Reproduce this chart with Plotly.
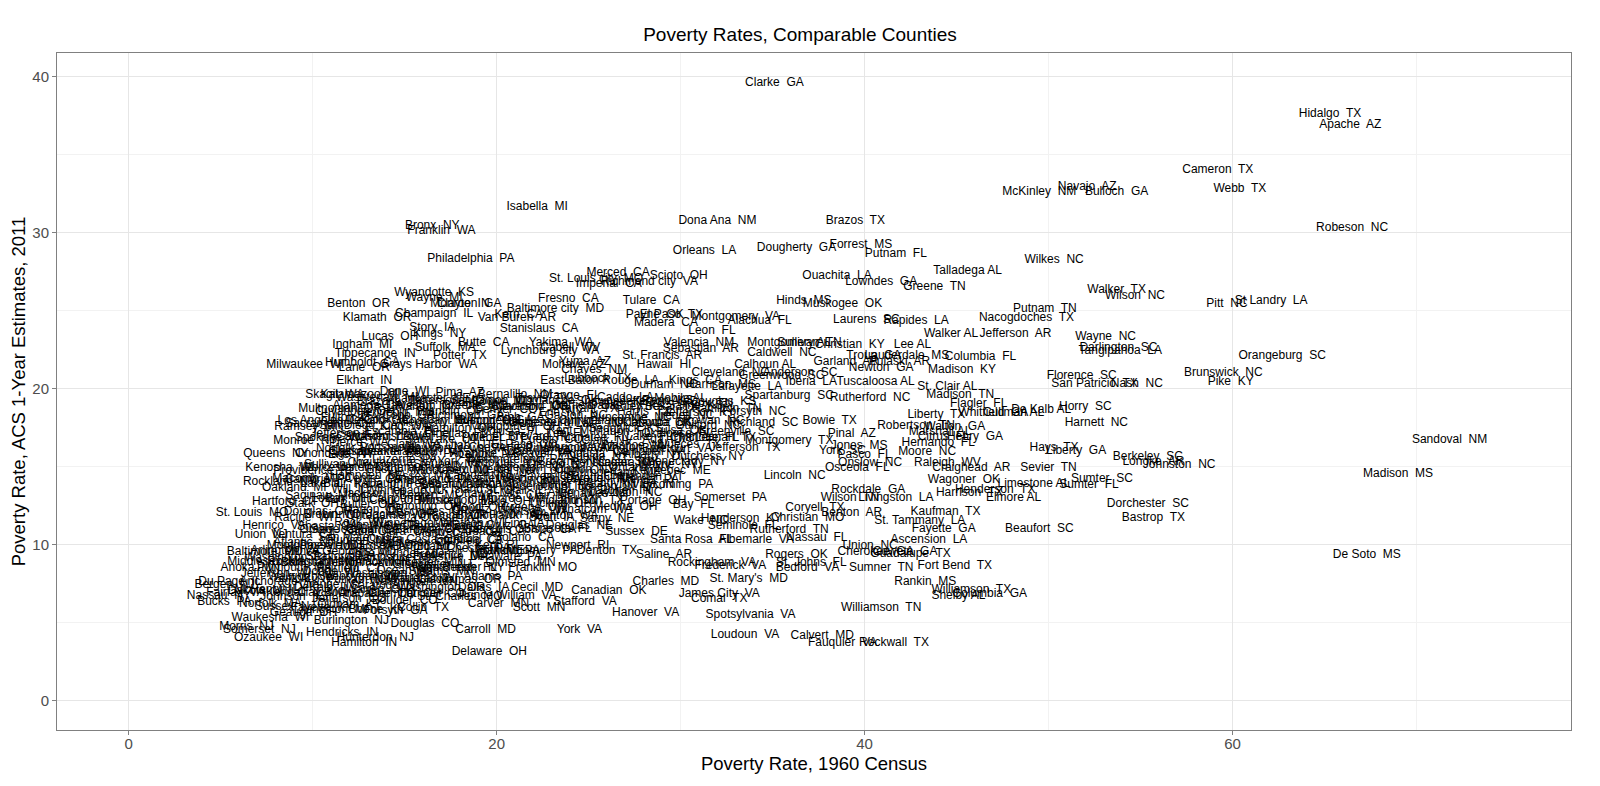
import plotly.graph_objects as go

# ---------------- readable / outlying counties ----------------
outer_names = [
    "Clarke  GA", "Hidalgo  TX", "Apache  AZ", "Cameron  TX", "Webb  TX",
    "Robeson  NC", "Navajo  AZ", "Bulloch  GA", "McKinley  NM", "Isabella  MI",
    "Bronx  NY", "Franklin  WA", "Philadelphia  PA", "Dona Ana  NM", "Brazos  TX",
    "Orleans  LA", "Dougherty  GA", "Forrest  MS", "Putnam  FL", "Wilkes  NC",
    "Talladega AL", "Ouachita  LA", "Lowndes  GA", "Greene  TN", "Walker  TX",
    "Wilson  NC", "St Landry  LA", "Pitt  NC", "Putnam  TN", "Nacogdoches  TX",
    "Rapides  LA", "Laurens  SC", "Hinds  MS", "Muskogee  OK", "Walker AL",
    "Jefferson  AR", "Wayne  NC", "Darlington  SC", "Tangipahoa  LA", "Orangeburg  SC",
    "Brunswick  NC", "Pike  KY", "Florence  SC", "San Patricio  TX", "Nash  NC",
    "Lee AL", "Columbia  FL", "Madison  KY", "St. Clair AL", "Madison  TN",
    "Flagler  FL", "Whitfield  GA", "Cullman AL", "De Kalb AL", "Horry  SC",
    "Harnett  NC", "Liberty  TX", "Robertson  TN", "Hernando  FL", "Moore  NC",
    "Hays  TX", "Liberty  GA", "Berkeley  SC", "Lonoke  AR", "Johnston  NC",
    "Sevier  TN", "Limestone AL", "Sumter  SC", "Sumter  FL", "Henderson  TX",
    "Harrison  TX", "Elmore AL", "Dorchester  SC", "Bastrop  TX", "Beaufort  SC",
    "Kaufman  TX", "St. Tammany  LA", "Fayette  GA", "Ascension  LA", "Union  NC",
    "Coweta  GA", "Guadalupe  TX", "Cherokee  GA", "Rockdale  GA", "Livingston  LA",
    "Wilson  TN", "Coryell  TX", "Benton  AR", "Christian  MO", "Henderson  KY",
    "Wake  NC", "Seminole  FL", "Rutherford  TN", "Nassau  FL", "Albemarle  VA",
    "Santa Rosa  FL", "Sussex  DE", "Bay  FL", "Somerset  PA", "Saline  AR",
    "Denton  TX", "Newport  RI", "Rockingham  VA", "Frederick  VA", "St. Johns  FL",
    "Bedford  VA", "Rogers  OK", "Sumner  TN", "Fort Bend  TX", "Rankin  MS",
    "Williamson  TX", "Shelby AL", "Columbia  GA", "Williamson  TN", "Charles  MD",
    "St. Mary's  MD", "James City  VA", "Comal  TX", "Canadian  OK", "Hanover  VA",
    "Spotsylvania  VA", "Loudoun  VA", "Calvert  MD", "Fauquier  VA", "Rockwall  TX",
    "York  VA", "Carroll  MD", "Delaware  OH", "Douglas  CO", "Hunterdon  NJ",
    "Hamilton  IN", "Hendricks  IN", "Ozaukee  WI", "Somerset  NJ", "Morris  NJ",
    "Waukesha  WI", "Burlington  NJ", "Warren  NJ", "Adams  PA", "Dallas  IA",
    "Cecil  MD", "Franklin  MO", "Prince William  VA", "Carver  MN", "Scott  MN",
    "Stafford  VA", "St. Louis  MO", "Queens  NY", "Onondaga  NY", "Kenosha  WI",
    "Rockland  NY", "Macomb  MI", "Monroe  NY", "Ramsey  MN", "Sacramento  CA",
    "Cuyahoga  OH", "Skagit  WA", "Kalamazoo  MI", "Elkhart  IN", "Lane  OR",
    "Milwaukee  WI", "Humboldt  CA", "Tippecanoe  IN", "Ingham  MI", "Lucas  OH",
    "Kings  NY", "Story  IA", "Butte  CA", "Suffolk  MA", "Potter  TX",
    "Grays Harbor  WA", "Benton  OR", "Klamath  OR", "Wyandotte  KS", "Wayne  MI",
    "Champaign  IL", "Clayton  GA", "Monroe  IN", "Van Buren  AR", "Kern  CA",
    "Baltimore city  MD", "Stanislaus  CA", "Fresno  CA", "Yakima  WA", "Lynchburg city  VA",
    "Cabell  WV", "Yuma  AZ", "Mohave  AZ", "Chaves  NM", "Lubbock  TX",
    "St. Louis city  MO", "Merced  CA", "Imperial  CA", "Richmond city  VA", "Scioto  OH",
    "Tulare  CA", "Payne  OK", "El Paso  TX", "Montgomery  VA", "Madera  CA",
    "Alachua  FL", "Leon  FL", "Valencia  NM", "Sebastian  AR", "Caldwell  NC",
    "St. Francis  AR", "Hawaii  HI", "Montgomery AL", "Sullivan  TN", "Christian  KY",
    "Garland  AR", "Troup  GA", "Lauderdale  MS", "Pulaski  AR", "Newton  GA",
    "Tuscaloosa AL", "Iberia  LA", "Harrison  MS", "Kings  CA", "Durham  NC",
    "East Baton Rouge  LA", "Lafayette  LA", "Spartanburg  SC", "Rutherford  NC", "Montgomery  TX",
    "Jones  MS", "Pinal  AZ", "York  SC", "Pasco  FL", "Onslow  NC",
    "Osceola  FL", "Lincoln  NC", "Raleigh  WV", "Craighead  AR", "Wagoner  OK",
    "Bowie  TX", "Walton  GA", "Marshall AL", "Citrus  FL", "Henry  GA",
    "Du Page  IL", "Nassau  NY", "Bucks  PA", "Norfolk  MA", "Anchorage  AK",
    "Anoka  MN", "Henrico  VA", "Hartford  CT", "Union  NJ", "Baltimore  MD",
    "Fairfax  VA", "Dakota  MN", "Bergen  NJ", "Johnson  TX", "Davidson  NC",
    "Sarasota  FL", "Franklin  PA", "York  ME", "Olmsted  MN", "Palm Beach  FL",
    "Greenwood  SC", "Anderson  SC", "Calhoun AL", "Cleveland  NC", "Sandoval  NM",
    "Madison  MS", "De Soto  MS",
]
outer_1960 = [
    35.1, 65.3, 66.4, 59.2, 60.4, 66.5, 52.1, 53.7, 49.5, 22.2,
    16.5, 17.0, 18.6, 32.0, 39.5, 31.3, 36.3, 39.8, 41.7, 50.3,
    45.6, 38.5, 40.9, 43.8, 53.7, 54.7, 62.1, 59.7, 49.8, 48.8,
    42.8, 40.1, 36.7, 38.8, 44.7, 48.2, 53.1, 53.8, 53.9, 62.7,
    59.5, 59.9, 51.8, 52.5, 54.8, 42.6, 46.3, 45.3, 44.5, 45.2,
    46.2, 47.0, 48.1, 49.6, 52.0, 52.6, 43.9, 42.8, 44.0, 43.4,
    50.3, 51.5, 55.4, 55.7, 57.1, 50.0, 49.2, 52.9, 52.2, 47.1,
    45.7, 48.1, 55.4, 55.7, 49.5, 44.4, 43.0, 44.3, 43.5, 40.3,
    42.2, 42.5, 40.6, 40.2, 41.7, 39.2, 37.3, 39.3, 36.9, 33.3,
    31.1, 33.4, 35.9, 37.4, 34.1, 30.6, 27.6, 30.7, 32.7, 29.1,
    26.0, 24.4, 31.7, 32.7, 37.1, 36.9, 36.3, 40.9, 44.9, 43.3,
    45.8, 45.1, 46.8, 40.9, 29.2, 33.7, 32.1, 32.1, 26.1, 28.1,
    33.8, 33.5, 37.7, 38.8, 41.6, 24.5, 19.4, 19.6, 16.1, 13.4,
    12.8, 11.6, 7.6, 7.1, 6.4, 7.7, 12.1, 15.7, 19.8, 19.3,
    22.2, 22.5, 20.6, 20.1, 22.3, 24.8, 6.7, 8.0, 11.2, 8.2,
    8.2, 9.6, 9.6, 9.8, 10.9, 12.3, 11.2, 12.6, 12.8, 12.8,
    9.6, 12.7, 13.4, 12.7, 14.2, 16.9, 16.5, 19.3, 17.2, 18.0,
    16.3, 12.5, 13.5, 16.6, 16.6, 16.6, 18.5, 18.0, 21.1, 21.2,
    23.2, 22.3, 23.9, 23.5, 22.9, 24.0, 24.8, 24.2, 25.3, 25.5,
    25.4, 26.6, 26.1, 28.3, 29.9, 28.4, 28.6, 29.5, 33.0, 29.2,
    34.3, 31.7, 31.0, 31.1, 35.5, 29.0, 29.1, 35.9, 37.0, 39.2,
    39.0, 40.5, 42.3, 41.9, 40.9, 40.6, 37.1, 32.2, 30.8, 29.1,
    25.6, 33.6, 35.9, 40.3, 35.9, 39.7, 39.3, 38.8, 40.0, 40.3,
    39.6, 36.2, 44.5, 45.8, 45.4, 38.1, 44.9, 44.1, 44.3, 46.0,
    5.5, 4.9, 5.2, 7.7, 8.2, 6.6, 7.9, 8.5, 7.2, 7.4,
    5.8, 7.1, 5.2, 25.1, 27.0, 23.3, 20.6, 20.2, 21.3, 17.7,
    35.5, 36.5, 34.6, 32.7, 71.8, 69.0, 67.3,
]
outer_2011 = [
    39.6, 37.6, 36.9, 34.0, 32.8, 30.3, 32.9, 32.6, 32.6, 31.6,
    30.4, 30.1, 28.3, 30.7, 30.7, 28.8, 29.0, 29.2, 28.6, 28.2,
    27.5, 27.2, 26.8, 26.5, 26.3, 25.9, 25.6, 25.4, 25.1, 24.5,
    24.3, 24.4, 25.6, 25.4, 23.5, 23.5, 23.3, 22.6, 22.4, 22.1,
    21.0, 20.4, 20.8, 20.3, 20.3, 22.8, 22.0, 21.2, 20.1, 19.6,
    19.0, 18.4, 18.4, 18.6, 18.8, 17.8, 18.3, 17.6, 16.5, 15.9,
    16.2, 16.0, 15.6, 15.3, 15.1, 14.9, 13.9, 14.2, 13.8, 13.5,
    13.3, 13.0, 12.6, 11.7, 11.0, 12.1, 11.5, 11.0, 10.3, 9.9,
    9.5, 9.4, 9.5, 13.5, 13.0, 13.0, 12.3, 12.0, 11.7, 11.6,
    11.5, 11.2, 10.9, 10.4, 10.3, 10.3, 10.8, 12.5, 13.0, 9.3,
    9.6, 9.9, 8.8, 8.6, 8.8, 8.5, 9.3, 8.5, 8.6, 7.6,
    7.1, 6.7, 6.8, 5.9, 7.6, 7.8, 6.8, 6.5, 7.0, 5.6,
    5.5, 4.2, 4.1, 3.7, 3.7, 4.5, 4.5, 3.1, 4.9, 4.0,
    3.7, 4.3, 4.0, 4.5, 4.7, 5.3, 5.1, 7.8, 7.9, 7.2,
    7.2, 8.5, 6.7, 6.2, 5.9, 6.3, 12.0, 15.8, 15.8, 14.9,
    14.0, 14.2, 16.6, 17.5, 17.7, 18.5, 19.6, 19.6, 20.5, 21.3,
    21.5, 21.6, 22.2, 22.8, 23.3, 23.5, 23.9, 22.9, 22.6, 22.1,
    21.5, 25.4, 24.5, 26.1, 25.8, 24.8, 25.4, 25.4, 24.5, 24.7,
    25.1, 23.8, 25.7, 22.9, 22.4, 22.6, 21.7, 21.5, 21.2, 20.6,
    27.0, 27.4, 26.7, 26.8, 27.2, 25.6, 24.7, 24.7, 24.6, 24.2,
    24.3, 23.7, 22.9, 22.5, 22.3, 22.1, 21.5, 22.9, 22.9, 22.8,
    21.7, 22.1, 22.1, 21.7, 21.3, 20.4, 20.4, 20.2, 20.5, 20.2,
    20.5, 20.1, 19.5, 19.4, 16.6, 16.3, 17.1, 16.0, 15.7, 15.2,
    14.9, 14.4, 15.2, 14.9, 14.1, 17.9, 17.5, 17.2, 16.9, 16.9,
    7.6, 6.7, 6.3, 6.2, 7.6, 8.5, 11.2, 12.7, 10.6, 9.5,
    6.9, 7.0, 7.4, 12.8, 13.3, 11.0, 9.6, 9.6, 8.8, 8.5,
    20.8, 21.0, 21.5, 21.0, 16.7, 14.5, 9.3,
]

# ---------------- crowded cluster (estimated) ----------------
core_names = [
    "Washtenaw  MI", "Dane  WI", "Lancaster  NE", "Pima  AZ", "Sangamon  IL", "Bernalillo  NM",
    "Travis  TX", "Orange  FL", "Caddo  LA", "Jefferson AL", "Mobile AL", "Knox  TN",
    "Multnomah  OR", "Alameda  CA", "Hennepin  MN", "Marion  IN", "Franklin  OH", "Polk  IA",
    "Denver  CO", "Jackson  MO", "Erie  NY", "Tarrant  TX", "Dallas  TX", "Harris  TX",
    "Bexar  TX", "Jefferson  KY", "Hamilton  TN", "Forsyth  NC",
    "Los Angeles  CA", "San Diego  CA", "Cook  IL", "King  WA", "Allegheny  PA", "Hamilton  OH",
    "Summit  OH", "Montgomery  OH", "Genesee  MI", "Kent  MI", "Lake  IN", "Sedgwick  KS",
    "Oklahoma  OK", "Tulsa  OK", "Guilford  NC", "Greenville  SC", "Richland  SC",
    "Spokane  WA", "Pierce  WA", "Snohomish  WA", "Clark  WA", "Salt Lake  UT", "Utah  UT",
    "Weber  UT", "El Paso  CO", "Pueblo  CO", "Maricopa  AZ", "Clark  NV", "Washoe  NV",
    "Ada  ID", "Nueces  TX", "McLennan  TX", "Jefferson  TX",
    "Erie  PA", "Lackawanna  PA", "Luzerne  PA", "Berks  PA", "York  PA", "Lehigh  PA",
    "Westmoreland  PA", "Beaver  PA", "Broome  NY", "Oneida  NY", "Niagara  NY", "Albany  NY",
    "Schenectady  NY", "Dutchess  NY",
    "Providence  RI", "Worcester  MA", "Hampden  MA", "Bristol  MA", "Essex  MA", "Middlesex  NJ",
    "Camden  NJ", "Mercer  NJ", "New Haven  CT", "New London  CT", "Hillsborough  NH",
    "Cumberland  ME", "Chittenden  VT", "Kennebec  ME",
    "Oakland  MI", "Lake  IL", "Will  IL", "Kane  IL", "Winnebago  IL", "Peoria  IL",
    "Rock Island  IL", "Madison  IL", "St. Clair  IL", "Vanderburgh  IN", "Allen  IN",
    "St. Joseph  IN", "Porter  IN", "Vigo  IN",
    "Stark  OH", "Lorain  OH", "Butler  OH", "Clark  OH", "Mahoning  OH", "Trumbull  OH",
    "Wood  OH", "Lake  OH", "Greene  OH", "Licking  OH", "Medina  OH", "Portage  OH",
    "Racine  WI", "Brown  WI", "Rock  WI", "Outagamie  WI", "Winnebago  WI", "La Crosse  WI",
    "Marathon  WI", "Black Hawk  IA", "Linn  IA", "Scott  IA", "Douglas  NE", "Sarpy  NE",
    "Ventura  CA", "Orange  CA", "San Mateo  CA", "Santa Clara  CA", "Contra Costa  CA",
    "Marin  CA", "Sonoma  CA", "Placer  CA", "Solano  CA",
    "Arlington  VA", "Montgomery  MD", "Prince George's  MD", "Howard  MD", "Anne Arundel  MD",
    "Harford  MD", "Frederick  MD", "Chester  PA", "Delaware  PA", "Montgomery  PA",
    "Middlesex  MA", "Plymouth  MA", "Barnstable  MA", "Fairfield  CT", "Monmouth  NJ",
    "Ocean  NJ", "Gloucester  NJ", "Westchester  NY",
    "Suffolk  NY", "Orange  NY", "Putnam  NY", "Saratoga  NY", "Washington  MN",
    "Washington  OR", "Clackamas  OR",
    "Johnson  KS", "Clay  MO", "Jefferson  CO", "Arapahoe  CO", "Boulder  CO", "Larimer  CO",
    "St. Charles  MO",
    "Geauga  OH", "Livingston  MI", "Forsyth  GA", "Collin  TX",
]
core_1960 = [
    13.5, 15.0, 16.5, 18.0, 19.5, 21.0,
    22.5, 24.0, 27.0, 28.5, 30.0, 31.5,
    11.5, 13.0, 14.5, 16.0, 17.5, 19.0,
    20.5, 22.0, 23.5, 25.0, 26.5, 28.0,
    29.5, 31.0, 32.5, 34.0,
    10.5, 12.5, 14.0, 15.0, 16.5, 18.0,
    19.5, 21.0, 22.5, 24.0, 25.5, 27.0,
    28.5, 30.0, 31.5, 33.0, 34.5,
    11.0, 12.5, 14.0, 15.5, 17.0, 18.5,
    20.0, 21.5, 23.0, 24.5, 26.0, 27.5,
    29.0, 30.5, 32.0, 33.5,
    12.0, 13.5, 15.0, 16.5, 18.0, 19.5,
    21.0, 22.5, 24.0, 25.5, 27.0, 28.5,
    30.0, 31.5,
    10.0, 11.5, 13.0, 14.5, 16.0, 17.5,
    19.0, 20.5, 22.0, 23.5, 25.0,
    26.5, 28.0, 29.5,
    9.0, 10.5, 12.0, 13.5, 15.0, 16.5,
    18.0, 19.5, 21.0, 22.5, 24.0,
    25.5, 27.0, 28.5,
    10.0, 11.5, 13.0, 14.5, 16.0, 17.5,
    19.0, 20.5, 22.0, 23.5, 27.0, 28.5,
    9.5, 11.0, 12.5, 14.0, 15.5, 17.0,
    18.5, 20.0, 21.5, 23.0, 24.5, 26.0,
    9.5, 11.0, 12.5, 14.0, 15.5,
    17.0, 18.5, 20.0, 21.5,
    8.5, 10.0, 11.5, 13.0, 14.5,
    16.0, 17.5, 19.0, 20.5, 22.0,
    7.5, 9.0, 10.5, 12.0, 13.5,
    15.0, 16.5, 18.0,
    9.5, 11.0, 12.5, 14.0, 15.5,
    17.0, 18.0,
    9.0, 10.5, 12.0, 13.5, 15.0, 16.5,
    18.0,
    9.5, 11.0, 14.5, 16.0,
]
core_2011 = [
    19.4, 19.8, 19.3, 19.7, 19.2, 19.6,
    19.3, 19.5, 19.4, 19.1, 19.3, 19.0,
    18.7, 18.9, 18.4, 18.8, 18.5, 18.9,
    18.6, 18.8, 18.4, 18.7, 18.9, 18.5,
    18.8, 18.4, 18.7, 18.5,
    17.9, 17.6, 18.0, 17.5, 17.8, 17.4,
    17.9, 17.5, 17.8, 17.3, 17.7, 17.4,
    17.8, 17.3, 17.6, 17.2, 17.8,
    16.8, 16.5, 16.9, 16.4, 16.7, 16.3,
    16.8, 16.4, 16.7, 16.2, 16.6, 16.3,
    16.7, 16.4, 16.8, 16.2,
    15.7, 15.9, 15.4, 15.8, 15.3, 15.7,
    15.4, 15.8, 15.3, 15.6, 15.2, 15.7,
    15.3, 15.6,
    14.7, 14.9, 14.4, 14.8, 14.3, 14.7,
    14.4, 14.8, 14.3, 14.7, 14.2,
    14.6, 14.3, 14.7,
    13.6, 13.9, 13.5, 13.8, 13.4, 13.9,
    13.5, 13.8, 13.4, 13.7, 13.3,
    13.7, 13.4, 13.8,
    12.6, 12.9, 12.5, 12.8, 12.4, 12.8,
    12.3, 12.7, 12.3, 12.6, 12.4, 12.8,
    11.7, 11.9, 11.4, 11.8, 11.3, 11.7,
    11.3, 11.8, 11.3, 11.7, 11.2, 11.6,
    10.6, 10.9, 10.4, 10.8, 10.3,
    10.7, 10.3, 10.8, 10.4,
    9.6, 9.9, 9.5, 9.8, 9.4,
    9.8, 9.3, 9.7, 9.2, 9.6,
    8.9, 8.5, 8.8, 8.4, 8.8,
    8.3, 8.7, 8.5,
    7.8, 7.4, 7.7, 7.3, 7.6,
    7.2, 7.7,
    6.6, 6.9, 6.5, 6.8, 6.4, 6.8,
    6.6,
    5.6, 5.8, 5.7, 5.9,
]

extra_names = [
    "Brazoria  TX", "Galveston  TX", "Jefferson  MO", "Greene  MO", "Boone  MO", "Cleveland  OK",
    "Comanche  OK", "Garfield  OK", "Shawnee  KS", "Riley  KS", "Reno  KS", "Saline  KS", "Douglas  KS",
    "Fulton  GA", "DeKalb  GA", "Cobb  GA", "Chatham  GA", "Richmond  GA", "Muscogee  GA",
    "Bibb  GA", "Mecklenburg  NC", "Gaston  NC", "Cumberland  NC", "Buncombe  NC", "Catawba  NC",
    "Iredell  NC", "Rowan  NC",
    "Jefferson  LA", "Calcasieu  LA", "Escambia  FL", "Duval  FL", "Pinellas  FL", "Polk  FL",
    "Volusia  FL", "Brevard  FL", "Lee  FL", "Manatee  FL", "Marion  FL", "Lake  FL",
    "Okaloosa  FL", "Charlotte  FL",
    "Norfolk  VA", "Chesapeake  VA", "Portsmouth  VA", "Hampton  VA", "Newport News  VA",
    "Roanoke  VA", "Chesterfield  VA", "Danville  VA", "Pittsylvania  VA", "Augusta  VA",
    "Washington  VA", "Campbell  VA", "Botetourt  VA",
    "Sullivan  NY", "Ulster  NY", "Chautauqua  NY", "Cattaraugus  NY", "Steuben  NY", "Chemung  NY",
    "Tompkins  NY", "Jefferson  NY", "Otsego  NY", "Clinton  NY", "Rensselaer  NY", "Ontario  NY",
    "Wayne  NY",
    "Cambria  PA", "Blair  PA", "Centre  PA", "Dauphin  PA", "Cumberland  PA", "Lebanon  PA",
    "Lancaster  PA", "Northampton  PA", "Washington  PA", "Butler  PA", "Fayette  PA",
    "Schuylkill  PA", "Mercer  PA", "Lycoming  PA",
    "Saginaw  MI", "Bay  MI", "Jackson  MI", "Calhoun  MI", "Berrien  MI", "Muskegon  MI",
    "Ottawa  MI", "Monroe  MI", "St. Clair  MI", "Midland  MI", "Lenawee  MI",
    "Douglas  OR", "Linn  OR", "Marion  OR", "Jackson  OR", "Deschutes  OR", "Yamhill  OR",
    "Cowlitz  WA", "Thurston  WA", "Kitsap  WA", "Benton  WA", "Whatcom  WA",
    "Shasta  CA", "San Joaquin  CA", "Monterey  CA", "Santa Barbara  CA", "San Bernardino  CA",
    "Riverside  CA", "Santa Cruz  CA", "San Luis Obispo  CA",
    "Atlantic  NJ", "Passaic  NJ", "Hudson  NJ", "Essex  NJ", "Middlesex  CT", "Tolland  CT",
    "Litchfield  CT", "Kent  RI",
    "Washington  RI", "Rockingham  NH", "Strafford  NH", "Merrimack  NH", "Hampshire  MA",
    "Worcester  MD", "Berkshire  MA",
    "Jefferson  WI", "Walworth  WI", "Dodge  WI", "Sheboygan  WI", "Washington  WI",
    "Fond du Lac  WI", "Stearns  MN",
    "McHenry  IL", "Kendall  IL", "DeKalb  IL", "Boone  IL", "Warren  OH", "Clermont  OH",
    "Sussex  NJ", "Fayette  KY", "Oldham  KY", "Boone  KY",
]
extra_1960 = [
    14.2, 15.8, 17.3, 18.8, 20.3, 21.8,
    23.3, 24.8, 26.3, 27.8, 29.3, 30.8, 32.3,
    12.0, 13.5, 15.2, 16.8, 18.3, 19.8,
    21.3, 22.8, 24.3, 25.8, 27.3, 28.8,
    30.3, 31.8,
    11.8, 13.3, 14.8, 16.3, 17.8, 19.3,
    20.8, 22.3, 23.8, 25.3, 26.8, 28.3,
    29.8, 31.3,
    11.8, 13.3, 14.8, 16.3, 17.8,
    19.3, 20.8, 22.3, 23.8, 25.3,
    26.8, 28.3, 29.8,
    11.3, 12.8, 14.3, 15.8, 17.3, 18.8,
    20.3, 21.8, 23.3, 24.8, 26.3, 27.8,
    29.3,
    10.3, 11.8, 13.3, 14.8, 16.3, 17.8,
    19.3, 20.8, 22.3, 23.8, 25.3,
    26.8, 28.3, 29.8,
    10.3, 11.8, 13.3, 14.8, 16.3, 17.8,
    19.3, 20.8, 22.3, 23.8, 25.3,
    10.3, 11.8, 13.3, 14.8, 16.3, 17.8,
    19.3, 20.8, 22.3, 23.8, 25.3,
    10.8, 12.3, 13.8, 15.3, 16.8,
    18.3, 19.8, 21.3,
    9.5, 11.0, 12.5, 14.0, 15.5, 17.0,
    18.5, 20.0,
    8.5, 10.0, 11.5, 13.0, 14.5,
    16.0, 17.5,
    8.0, 9.5, 11.0, 12.5, 14.0,
    15.5, 17.0,
    7.5, 9.0, 10.5, 12.0, 13.5, 15.0,
    8.5, 10.5, 12.0, 13.5,
]
extra_2011 = [
    19.1, 18.9, 19.2, 18.9, 19.1, 18.8,
    19.2, 18.9, 19.1, 18.8, 19.2, 18.9, 19.1,
    18.1, 17.9, 18.2, 17.9, 18.2, 17.9,
    18.1, 17.8, 18.2, 17.9, 18.1, 17.8,
    18.2, 17.9,
    17.1, 16.9, 17.2, 16.9, 17.1, 16.8,
    17.2, 16.9, 17.1, 16.8, 17.2, 16.9,
    17.1, 16.8,
    16.1, 15.9, 16.2, 15.9, 16.1,
    15.8, 16.2, 15.9, 16.1, 15.8,
    16.2, 15.9, 16.1,
    15.1, 14.9, 15.2, 14.9, 15.1, 14.8,
    15.2, 14.9, 15.1, 14.8, 15.2, 14.9,
    15.1,
    14.1, 13.9, 14.2, 13.9, 14.1, 13.8,
    14.2, 13.9, 14.1, 13.8, 14.2,
    13.9, 14.1, 13.8,
    13.1, 12.9, 13.2, 12.9, 13.1, 12.8,
    13.2, 12.9, 13.1, 12.8, 13.2,
    12.1, 11.9, 12.2, 11.9, 12.1, 11.8,
    12.2, 11.9, 12.1, 11.8, 12.2,
    11.1, 10.9, 11.2, 10.9, 11.1,
    10.8, 11.2, 10.9,
    10.1, 9.9, 10.2, 9.9, 10.1, 9.8,
    10.2, 9.9,
    9.1, 8.9, 9.2, 8.9, 9.1,
    8.8, 9.2,
    8.1, 7.9, 8.2, 7.9, 8.1,
    7.8, 8.2,
    7.1, 6.9, 7.2, 6.9, 7.1, 6.8,
    6.0, 5.9, 6.1, 5.8,
]

county = outer_names + core_names + extra_names
pov_1960 = outer_1960 + core_1960 + extra_1960
pov_2011 = outer_2011 + core_2011 + extra_2011

x_ticks = [0, 20, 40, 60]
y_ticks = [0, 10, 20, 30, 40]

FONT = "Liberation Sans, Arial, sans-serif"

fig = go.Figure(
    go.Scatter(
        x=pov_1960,
        y=pov_2011,
        mode="text",
        text=county,
        textposition="middle center",
        textfont=dict(family=FONT, size=12, color="black"),
        hoverinfo="text",
    )
)

axis_common = dict(
    showgrid=True,
    gridcolor="#E6E6E6",
    gridwidth=1,
    zeroline=False,
    showline=True,
    mirror=True,
    linecolor="#808080",
    linewidth=1,
    ticks="outside",
    ticklen=4,
    tickcolor="#808080",
    tickfont=dict(family=FONT, size=15, color="#4D4D4D"),
    automargin=False,
)

# the page body adds an 8px margin, so the figure is sized to fit inside it
fig.update_layout(
    width=1584,
    height=770,
    margin=dict(l=49, r=21, t=45, b=48),
    plot_bgcolor="white",
    paper_bgcolor="white",
    showlegend=False,
    title=dict(
        text="Poverty Rates, Comparable Counties",
        x=0.5,
        xanchor="center",
        y=1 - 26 / 770,
        yanchor="middle",
        font=dict(family=FONT, size=19, color="black"),
    ),
    xaxis=dict(
        axis_common,
        range=[-3.9, 78.4],
        tickvals=x_ticks,
        ticklabelstandoff=-4,
        minor=dict(dtick=10, tick0=0, showgrid=True, gridcolor="#F2F2F2", ticks=""),
        title=dict(text="Poverty Rate, 1960 Census",
                   font=dict(family=FONT, size=18.5, color="black"), standoff=6),
    ),
    yaxis=dict(
        axis_common,
        range=[-1.9, 41.5],
        tickvals=y_ticks,
        minor=dict(dtick=5, tick0=0, showgrid=True, gridcolor="#F2F2F2", ticks=""),
        title=dict(text="Poverty Rate, ACS 1-Year Estimates, 2011",
                   font=dict(family=FONT, size=18.5, color="black"), standoff=6),
    ),
)

fig.write_html("out.html")
